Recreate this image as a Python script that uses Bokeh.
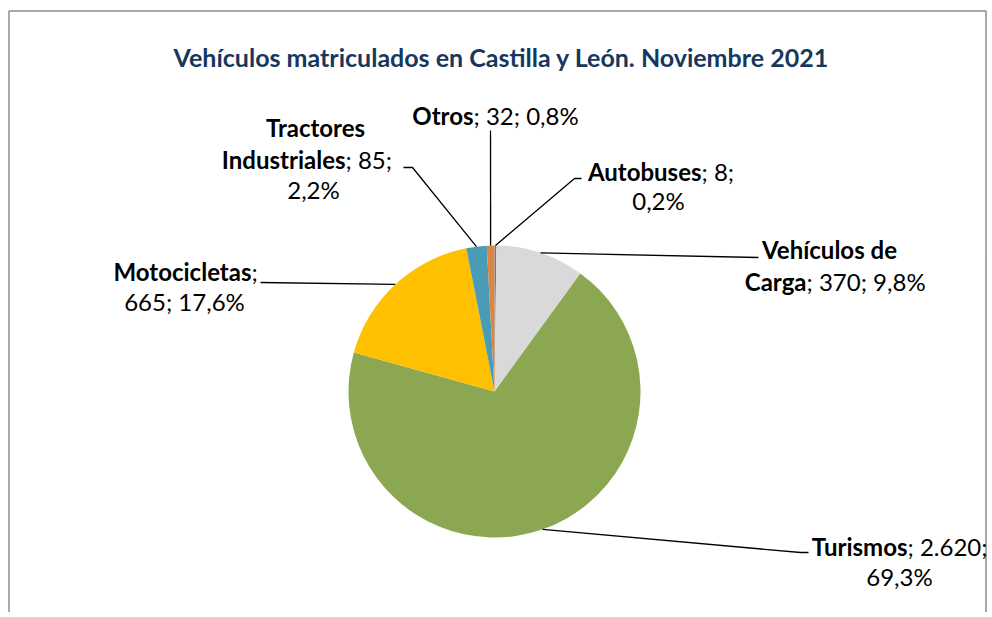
import numpy as np
from bokeh.plotting import figure
from bokeh.models import Range1d, ColumnDataSource
from bokeh.core.properties import value
from bokeh.embed import file_html
from bokeh.resources import INLINE

# ---- data ----
categories = ["Autobuses", "Vehículos de Carga", "Turismos", "Motocicletas", "Tractores Industriales", "Otros"]
counts = [8, 370, 2620, 665, 85, 32]
value_labels = ["8", "370", "2.620", "665", "85", "32"]
pct_labels = ["0,2%", "9,8%", "69,3%", "17,6%", "2,2%", "0,8%"]
colors = ["#4F81BD", "#D9D9D9", "#8BA751", "#FFC000", "#4A9CB6", "#DA8645"]
title = "Vehículos matriculados en Castilla y León. Noviembre 2021"

W, H = 990, 612
FONT = "Lato"

def px(X):  # page x -> data x
    return X

def py(Y):  # page y -> data y
    return H - Y

p = figure(width=W, height=H, output_backend="svg", toolbar_location=None,
           x_range=Range1d(0, W), y_range=Range1d(0, H), min_border=0)
p.axis.visible = False
p.grid.visible = False
p.outline_line_color = None
p.background_fill_color = "white"

# border (left, top, right)
p.line([px(8.5), px(8.5), px(985.5), px(985.5)], [py(640), py(10.5), py(10.5), py(640)],
       line_color="#8C8C8C", line_width=1.5)

# pie
cx, cy, r = px(494), py(391), 146
total = float(sum(counts))
fr = np.array(counts) / total
cum = np.concatenate([[0], np.cumsum(fr)])
start = np.pi / 2 - 2 * np.pi * cum[:-1]
end = np.pi / 2 - 2 * np.pi * cum[1:]
src = ColumnDataSource(dict(start=start, end=end, color=colors))
p.wedge(x=cx, y=cy, radius=r, start_angle="start", end_angle="end", direction="clock",
        fill_color="color", line_color=None, source=src)

mid = 2 * np.pi * (cum[:-1] + cum[1:]) / 2
ex = cx + r * np.sin(mid)
ey = cy + r * np.cos(mid)

# leader line waypoints (page coords) per category
leaders = {
    "Autobuses": [(574, 178), (581, 178)],
    "Vehículos de Carga": [(758, 257)],
    "Turismos": [(800, 552), (808, 552)],
    "Motocicletas": [(260, 282)],
    "Tractores Industriales": [(412, 167), (403, 167)],
    "Otros": [(490, 130)],
}
for i, c in enumerate(categories):
    xs = [ex[i]] + [px(a) for a, b in leaders[c]]
    ys = [ey[i]] + [py(b) for a, b in leaders[c]]
    p.line(xs, ys, line_color="black", line_width=1.3)

FS = "24px"
def bold_reg(bold, reg, split, Y):
    if bold:
        p.text(x=[px(split)], y=[py(Y)], text=[bold], text_align="right", text_baseline="middle",
               text_font=value(FONT), text_font_style="bold", text_font_size=FS, text_color="black")
    if reg:
        p.text(x=[px(split)], y=[py(Y)], text=[reg], text_align="left", text_baseline="middle",
               text_font=value(FONT), text_font_size=FS, text_color="black")

def center(txt, X, Y, bold=False):
    p.text(x=[px(X)], y=[py(Y)], text=[txt], text_align="center", text_baseline="middle",
           text_font=value(FONT), text_font_style="bold" if bold else "normal",
           text_font_size=FS, text_color="black")

# Otros
bold_reg("Otros", "; %s; %s" % (value_labels[5], pct_labels[5]), 473, 115)
# Autobuses
bold_reg("Autobuses", "; %s;" % value_labels[0], 701, 171)
center(pct_labels[0], 658, 200)
# Vehículos de Carga
center("Vehículos de", 829, 249, bold=True)
bold_reg("Carga", "; %s; %s" % (value_labels[1], pct_labels[1]), 806, 281)
# Turismos
bold_reg("Turismos", "; %s;" % value_labels[2], 907, 546)
center(pct_labels[2], 899, 576)
# Motocicletas
bold_reg("Motocicletas", ";", 251, 271)
center("%s; %s" % (value_labels[3], pct_labels[3]), 184, 301)
# Tractores
center("Tractores", 315, 127, bold=True)
bold_reg("Industriales", "; %s;" % value_labels[4], 345, 159)
center(pct_labels[4], 313, 189)

# title
p.text(x=[px(501)], y=[py(56)], text=[title], text_align="center", text_baseline="middle",
       text_font=value(FONT), text_font_style="bold", text_font_size="25px", text_color="#17375E")

open("out.html", "w").write(file_html(p, INLINE))
